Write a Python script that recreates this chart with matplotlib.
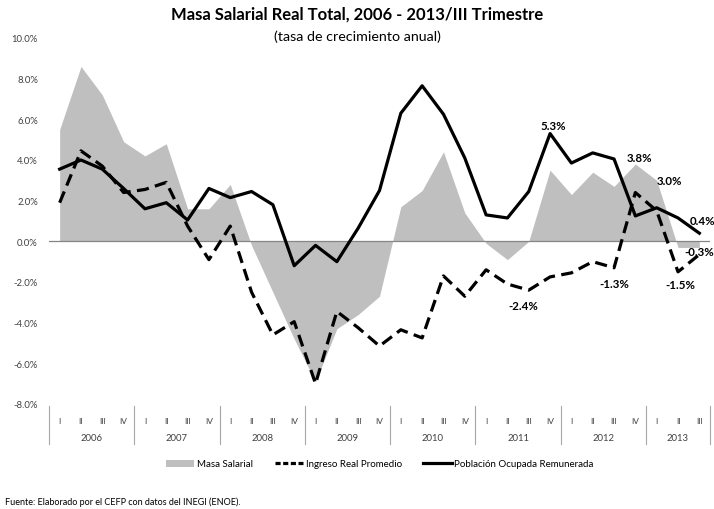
import matplotlib
matplotlib.use("Agg")
import matplotlib.pyplot as plt
from matplotlib.patches import Patch
from matplotlib.lines import Line2D

plt.rcParams['font.family'] = ['Lato', 'DejaVu Sans']

# tasas de crecimiento anual (%), 2006-I a 2013-III
years = ['2006', '2007', '2008', '2009', '2010', '2011', '2012', '2013']
quarter_names = ['I', 'II', 'III', 'IV']
n_quarters = 31

masa = [5.5, 8.6, 7.2, 4.9, 4.2, 4.8, 1.6, 1.6, 2.8, -0.2, -2.5, -4.8, -6.9, -4.3, -3.6, -2.7,
        1.7, 2.5, 4.4, 1.4, -0.1, -0.9, 0.0, 3.5, 2.3, 3.4, 2.7, 3.8, 3.0, -0.3, -0.3]
ingreso = [1.9, 4.45, 3.7, 2.4, 2.55, 2.9, 0.75, -0.9, 0.75, -2.5, -4.6, -3.95, -7.0, -3.45, -4.25, -5.15,
           -4.35, -4.75, -1.7, -2.7, -1.4, -2.1, -2.4, -1.75, -1.55, -1.0, -1.3, 2.4, 1.5, -1.5, -0.65]
poblacion = [3.55, 4.0, 3.55, 2.6, 1.6, 1.9, 1.05, 2.6, 2.15, 2.45, 1.8, -1.2, -0.2, -1.0, 0.65, 2.5,
             6.3, 7.65, 6.25, 4.1, 1.3, 1.15, 2.45, 5.3, 3.85, 4.35, 4.05, 1.25, 1.65, 1.15, 0.4]

# (serie, indice, desplazamiento en puntos)
labels = [
    (poblacion, 23, (2, 6)),
    (poblacion, 30, (2, 9)),
    (masa, 27, (3, 5)),
    (masa, 28, (9, 0)),
    (masa, 30, (0, -3)),
    (ingreso, 22, (-4, -11)),
    (ingreso, 26, (0, -11)),
    (ingreso, 29, (2, -9)),
]

GRAY = '#BFBFBF'

fig = plt.figure(figsize=(7.14, 5.10), dpi=100)
ax = fig.add_axes([49 / 714, 1 - 405 / 510, 661 / 714, 366 / 510])

x = list(range(n_quarters))
ax.fill_between(x, masa, 0, color=GRAY, lw=0, zorder=1)
ax.axhline(0, color='#868686', lw=0.9, zorder=2)
ax.plot(x, ingreso, color='black', lw=2.3, ls=(0, (3.8, 2.0)), zorder=3)
ax.plot(x, poblacion, color='black', lw=2.3, zorder=4)

for serie, i, off in labels:
    ax.annotate(f'{serie[i]:.1f}%', (i, serie[i]), xytext=off, textcoords='offset points',
                ha='center', va='center', fontsize=8.3, fontweight='bold', zorder=5)

ax.set_xlim(-0.5, n_quarters - 0.5)
ax.set_ylim(-8, 10)
ax.set_yticks(range(-8, 11, 2))
ax.set_yticklabels([f'{v:.1f}%' for v in range(-8, 11, 2)], fontsize=6.8, color='#404040')
ax.tick_params(axis='y', length=0, pad=8)
ax.set_xticks([])
for s in ax.spines.values():
    s.set_visible(False)

# eje de categorias en dos niveles
trans = ax.get_xaxis_transform()
for q in range(n_quarters):
    ax.text(q, -0.045, quarter_names[q % 4], transform=trans, ha='center', va='center',
            fontsize=6, color='#404040')
for k, yr in enumerate(years):
    start = k * 4 - 0.5
    end = min(start + 4, n_quarters - 0.5)
    ax.text((start + end) / 2, -0.092, yr, transform=trans, ha='center', va='center',
            fontsize=6.8, color='#404040')
    ax.plot([start, start], [-0.005, -0.11], transform=trans, color='#A6A6A6', lw=0.8, clip_on=False)
ax.plot([n_quarters - 0.5] * 2, [-0.005, -0.11], transform=trans, color='#A6A6A6', lw=0.8, clip_on=False)

fig.text(0.5, 1 - 15 / 510, 'Masa Salarial Real Total, 2006 - 2013/III Trimestre',
         ha='center', va='center', fontsize=12, fontweight='bold')
fig.text(0.5, 1 - 37 / 510, '(tasa de crecimiento anual)', ha='center', va='center', fontsize=10.3)

handles = [Patch(facecolor=GRAY, edgecolor='none'),
           Line2D([], [], color='black', lw=2.3, ls=(0, (1.6, 0.8))),
           Line2D([], [], color='black', lw=2.3)]
fig.legend(handles, ['Masa Salarial', 'Ingreso Real Promedio', 'Población Ocupada Remunerada'],
           loc='center', bbox_to_anchor=(380 / 714, 1 - 465 / 510), ncol=3, frameon=False,
           fontsize=7, handlelength=2.9, handletextpad=0.3, columnspacing=2.2)

fig.text(5 / 714, 1 - 502 / 510, 'Fuente: Elaborado por el CEFP con datos del INEGI (ENOE).',
         ha='left', va='center', fontsize=6.5)

fig.savefig('out.png', dpi=100)
